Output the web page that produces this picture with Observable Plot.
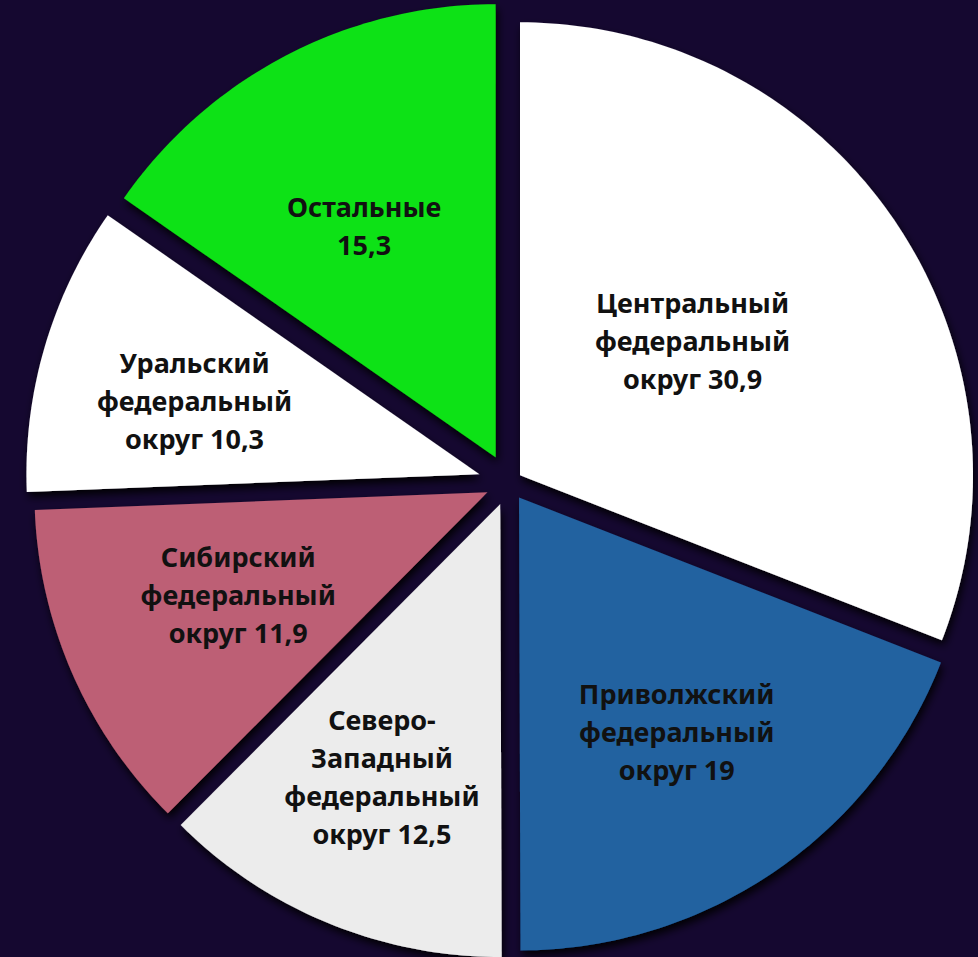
<!DOCTYPE html>
<html>
<head>
<meta charset="utf-8">
<script src="https://cdn.jsdelivr.net/npm/d3@7"></script>
<script src="https://cdn.jsdelivr.net/npm/@observablehq/plot@0.6"></script>
<style>
  html, body { margin: 0; padding: 0; background: #150830; overflow: hidden; }
  #chart { width: 978px; height: 957px; }
</style>
</head>
<body>
<div id="chart"></div>
<script>
// ---- data ----
const categories = [
  "Центральный федеральный округ",
  "Приволжский федеральный округ",
  "Северо-Западный федеральный округ",
  "Сибирский федеральный округ",
  "Уральский федеральный округ",
  "Остальные"
];
const labelNames = [
  "Центральный\nфедеральный\nокруг",
  "Приволжский\nфедеральный\nокруг",
  "Северо-\nЗападный\nфедеральный\nокруг",
  "Сибирский\nфедеральный\nокруг",
  "Уральский\nфедеральный\nокруг",
  "Остальные\n"
];
const values = [30.9, 19, 12.5, 11.9, 10.3, 15.3];

// ---- palette ----
const palette = ["#ffffff", "#2262a0", "#ececec", "#bd5f75", "#ffffff", "#0fe214"];

// ---- layout ----
const W = 978, H = 957;
const CX = 508.5, CY = 482.3;                 // pie centre in pixels
const R = 453;                                // slice radius
const halfGap = [11, 10, 8.8, 8.6, 9.8, 13.4]; // perpendicular shift of each slice's edges
const labelFrac = [0.484, 0.622, 0.654, 0.594, 0.65, 0.59];
const labelTurn = [-3.75, 0.4, 1.2, 1.56, -1.67, -1.9]; // degrees from the bisector

const fmt = v => String(v).replace(".", ",");
const arcs = d3.pie().sort(null).value(d => d)(values);
const rad = Math.PI / 180;

const slicePts = [];
const labelData = [];
arcs.forEach((a, i) => {
  const mid = (a.startAngle + a.endAngle) / 2;
  const half = (a.endAngle - a.startAngle) / 2;
  const off = halfGap[i] / Math.sin(half);
  const ox = off * Math.sin(mid), oy = -off * Math.cos(mid);
  const n = Math.max(8, Math.ceil((a.endAngle - a.startAngle) / (Math.PI * 2) * 360));
  slicePts.push({name: categories[i], color: palette[i], x: ox, y: oy});
  for (let k = 0; k <= n; ++k) {
    const t = a.startAngle + (a.endAngle - a.startAngle) * k / n;
    slicePts.push({name: categories[i], color: palette[i], x: ox + R * Math.sin(t), y: oy - R * Math.cos(t)});
  }
  const lr = labelFrac[i] * R;
  const la = mid + labelTurn[i] * rad;
  const name = labelNames[i];
  const text = name.endsWith("\n") ? name + fmt(values[i]) : name + " " + fmt(values[i]);
  labelData.push({x: ox + lr * Math.sin(la), y: oy - lr * Math.cos(la), text});
});

const chart = Plot.plot({
  width: W,
  height: H,
  margin: 0,
  x: {domain: [-CX, W - CX], range: [0, W], axis: null},
  y: {domain: [-CY, H - CY], range: [0, H], axis: null},
  color: {type: "identity"},
  style: {background: "#150830", overflow: "visible"},
  marks: [
    Plot.line(slicePts, {x: "x", y: "y", z: "name", fill: "color", stroke: "none", curve: "linear-closed"}),
    Plot.text(labelData, {
      x: "x", y: "y", text: "text",
      fill: "#111111",
      fontFamily: "Noto Sans",
      fontWeight: 700,
      fontSize: 27,
      lineHeight: 1.41,
      dy: -1
    })
  ]
});

// drop shadow under the slices
const ns = "http://www.w3.org/2000/svg";
const defs = document.createElementNS(ns, "defs");
const filter = document.createElementNS(ns, "filter");
filter.setAttribute("id", "sliceShadow");
filter.setAttribute("x", "-10%"); filter.setAttribute("y", "-10%");
filter.setAttribute("width", "120%"); filter.setAttribute("height", "120%");
const ds = document.createElementNS(ns, "feDropShadow");
ds.setAttribute("dx", "2"); ds.setAttribute("dy", "5");
ds.setAttribute("stdDeviation", "4");
ds.setAttribute("flood-color", "#000000");
ds.setAttribute("flood-opacity", "0.95");
filter.appendChild(ds);
defs.appendChild(filter);
chart.insertBefore(defs, chart.firstChild);
const lineGroup = chart.querySelector('g[aria-label="line"]');
if (lineGroup) lineGroup.querySelectorAll("path").forEach(p => p.setAttribute("filter", "url(#sliceShadow)"));

document.getElementById("chart").appendChild(chart);
</script>
</body>
</html>
